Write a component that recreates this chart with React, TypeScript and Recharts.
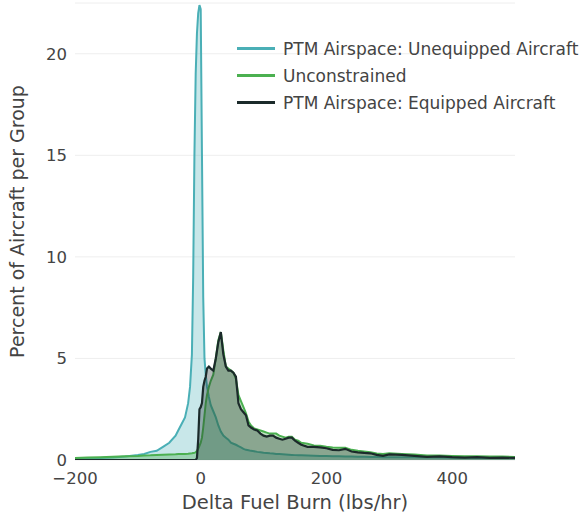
import { ComposedChart, Area, XAxis, YAxis, CartesianGrid, Label } from "recharts";

const xValues = [
  -200, -180, -160, -140, -120, -100, -90, -80, -70, -60, -50, -40, -35, -30, -25, -20, -17, -14, -12, -10,
  -8, -6, -4, -2, 0, 2, 4, 6, 8, 10, 13, 16, 20, 24, 28, 32, 36, 40, 44, 48,
  52, 56, 60, 64, 68, 72, 76, 80, 85, 90, 95, 100, 105, 110, 115, 120, 125, 130, 135, 140,
  145, 150, 155, 160, 170, 180, 190, 200, 210, 220, 230, 240, 250, 260, 270, 280, 290, 300, 320, 340,
  360, 380, 400, 420, 440, 460, 480, 500,
];

const unequipped = [
  0.05, 0.07, 0.1, 0.12, 0.17, 0.25, 0.3, 0.4, 0.45, 0.65, 0.85, 1.2, 1.5, 1.8, 2.1, 2.8, 3.6, 5.2, 9, 15,
  19, 21, 22, 22.4, 22.2, 15, 8, 5, 4.2, 3.6, 3.1, 2.7, 2.4, 2.1, 1.7, 1.4, 1.2, 1.1, 1.0, 0.85,
  0.8, 0.75, 0.68, 0.62, 0.55, 0.5, 0.48, 0.45, 0.43, 0.4, 0.38, 0.36, 0.35, 0.33, 0.32, 0.3, 0.29, 0.28, 0.27, 0.26,
  0.25, 0.24, 0.23, 0.23, 0.22, 0.21, 0.2, 0.2, 0.19, 0.18, 0.17, 0.17, 0.16, 0.16, 0.15, 0.15, 0.14, 0.14, 0.13, 0.13,
  0.12, 0.12, 0.11, 0.11, 0.1, 0.1, 0.1, 0.1,
];

const unconstrained = [
  0.1, 0.12, 0.14, 0.16, 0.18, 0.2, 0.22, 0.23, 0.25, 0.26, 0.27, 0.28, 0.29, 0.3, 0.3, 0.31, 0.32, 0.33, 0.34, 0.35,
  0.38, 0.45, 0.55, 0.7, 0.85, 1.1, 1.6, 2.2, 2.8, 3.2, 3.6, 3.9, 4.2, 5.0, 5.9, 6.3, 5.4, 4.6, 4.5, 4.4,
  4.3, 4.0, 3.2, 2.9, 2.6, 2.3, 1.9, 1.7, 1.55, 1.5, 1.45, 1.4, 1.35, 1.3, 1.3, 1.3, 1.2, 1.15, 1.1, 1.15,
  1.15, 1.0, 0.95, 0.85, 0.8, 0.72, 0.7, 0.65, 0.62, 0.6, 0.6, 0.5, 0.45, 0.42, 0.38, 0.32, 0.3, 0.33, 0.3, 0.27,
  0.22, 0.22, 0.2, 0.18, 0.18, 0.17, 0.17, 0.15,
];

const equipped = [
  0, 0, 0, 0, 0, 0, 0, 0, 0, 0, 0, 0, 0, 0, 0, 0, 0, 0, 0, 0,
  0, 0.1, 1.0, 2.5, 2.6, 2.8, 3.6, 3.9, 4.1, 4.5, 4.6, 4.5, 4.4, 5.0, 5.8, 6.3, 5.2, 4.6, 4.4, 4.4,
  4.3, 4.1, 2.8, 2.5, 2.35, 2.2, 1.7, 1.6, 1.5, 1.45, 1.3, 1.2, 1.15, 1.2, 1.2, 1.1, 1.05, 1.0, 1.05, 1.1,
  1.1, 0.95, 0.85, 0.75, 0.65, 0.65, 0.62, 0.58, 0.5, 0.48, 0.55, 0.42, 0.38, 0.35, 0.33, 0.25, 0.2, 0.28, 0.25, 0.2,
  0.15, 0.18, 0.14, 0.12, 0.14, 0.1, 0.12, 0.1,
];

const xTicks = [-200, 0, 200, 400];
const yTicks = [0, 5, 10, 15, 20];

const seriesNames = [
  "PTM Airspace: Unequipped Aircraft",
  "Unconstrained",
  "PTM Airspace: Equipped Aircraft",
];

const TEAL = "#4aafb6";
const GREEN = "#4bb050";
const DARK = "#1b2a2a";
const FONT = "'DejaVu Sans', Verdana, sans-serif";

const data = xValues.map((x, i) => ({
  x,
  unequipped: unequipped[i],
  unconstrained: unconstrained[i],
  equipped: equipped[i],
}));

const legendColors = [TEAL, GREEN, DARK];

const App = () => {
  return (
    <div style={{ position: "absolute", left: 0, top: 0, width: 580, height: 519, background: "#fff" }}>
      <ComposedChart
        width={580}
        height={519}
        data={data}
        margin={{ top: 3, right: 65, bottom: 29, left: 0 }}
      >
        <CartesianGrid horizontal vertical={false} stroke="#eee" />
        <XAxis
          dataKey="x"
          type="number"
          domain={[-200, 500]}
          ticks={xTicks}
          allowDataOverflow
          axisLine={false}
          tickLine={false}
          height={30}
          tickMargin={6}
          tick={{ fill: "#444", fontSize: 16.5, fontFamily: FONT }}
          tickFormatter={(v: number) => String(v).replace("-", "\u2212")}
        >
          <Label
            value="Delta Fuel Burn (lbs/hr)"
            position="bottom"
            offset={5}
            style={{ fill: "#444", fontSize: 19.5, fontFamily: FONT }}
          />
        </XAxis>
        <YAxis
          type="number"
          domain={[0, 22.5]}
          ticks={yTicks}
          allowDataOverflow
          axisLine={false}
          tickLine={false}
          width={75}
          tickMargin={2}
          tick={{ fill: "#444", fontSize: 16.5, fontFamily: FONT }}
        >
          <Label
            value="Percent of Aircraft per Group"
            angle={-90}
            position="insideLeft"
            offset={17}
            dy={-10}
            style={{ fill: "#444", fontSize: 19, fontFamily: FONT, textAnchor: "middle" }}
          />
        </YAxis>
        <Area
          type="linear"
          dataKey="unequipped"
          stroke={TEAL}
          strokeWidth={2}
          fill={TEAL}
          fillOpacity={0.3}
          isAnimationActive={false}
          dot={false}
          activeDot={false}
        />
        <Area
          type="linear"
          dataKey="unconstrained"
          stroke={GREEN}
          strokeWidth={2}
          fill={GREEN}
          fillOpacity={0.35}
          isAnimationActive={false}
          dot={false}
          activeDot={false}
        />
        <Area
          type="linear"
          dataKey="equipped"
          stroke={DARK}
          strokeWidth={2.2}
          fill={DARK}
          fillOpacity={0.33}
          isAnimationActive={false}
          dot={false}
          activeDot={false}
        />
      </ComposedChart>
      <div
        style={{
          position: "absolute",
          left: 237,
          top: 35,
          fontFamily: FONT,
          fontSize: 17,
          color: "#444",
        }}
      >
        {seriesNames.map((name, i) => (
          <div key={name} style={{ display: "flex", alignItems: "center", height: 27 }}>
            <div style={{ width: 38, height: 3, background: legendColors[i], marginRight: 8 }} />
            <span style={{ whiteSpace: "nowrap" }}>{name}</span>
          </div>
        ))}
      </div>
    </div>
  );
};

export default App;
